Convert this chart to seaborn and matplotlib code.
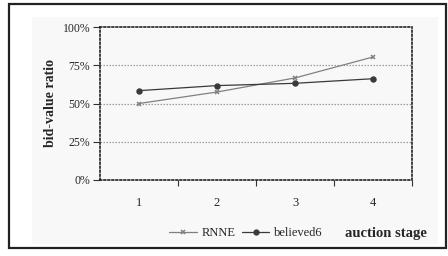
import pandas as pd
import matplotlib.pyplot as plt
import seaborn as sns
from matplotlib.patches import Rectangle
from matplotlib.ticker import FixedLocator, PercentFormatter

# Data
stages = [1, 2, 3, 4]
rnne = [50.0, 57.5, 66.7, 80.4]
believed6 = [58.4, 61.7, 63.2, 66.2]
y_ticks = [0, 25, 50, 75, 100]

df = pd.DataFrame({
    "stage": stages * 2,
    "ratio": rnne + believed6,
    "series": ["RNNE"] * len(stages) + ["believed6"] * len(stages),
})

sns.set_style("white")
plt.rcParams["font.family"] = ["Liberation Serif", "DejaVu Serif"]

fig = plt.figure(figsize=(4.48, 2.56), dpi=100)
fig.patch.set_facecolor("white")

# outer frame and light panel (behind the axes)
fig.patches.append(Rectangle((9 / 448, 1 - 248 / 256), 437 / 448, 244 / 256,
                             transform=fig.transFigure, fill=False,
                             edgecolor="#222222", linewidth=1.6, zorder=-2))
fig.patches.append(Rectangle((32 / 448, 1 - 244 / 256), 406 / 448, 227 / 256,
                             transform=fig.transFigure, facecolor="#f8f8f8",
                             edgecolor="none", zorder=-3))

ax = fig.add_axes([100 / 448, 1 - 180 / 256, 312 / 448, 153 / 256])
ax.set_facecolor("none")

palette = {"RNNE": "#808080", "believed6": "#3a3a3a"}
markers = {"RNNE": "x", "believed6": "o"}
for name in ["RNNE", "believed6"]:
    sns.lineplot(data=df[df["series"] == name], x="stage", y="ratio",
                 color=palette[name], marker=markers[name], markersize=3.5,
                 markeredgewidth=1.1, markeredgecolor=palette[name],
                 linewidth=0.9, ax=ax, zorder=3)

ax.set_xlim(0.5, 4.5)
ax.set_ylim(0, 100)
ax.set_yticks(y_ticks)
ax.yaxis.set_major_formatter(PercentFormatter(decimals=0))
ax.set_xticks(stages)
ax.xaxis.set_minor_locator(FixedLocator([1.5, 2.5, 3.5, 4.5]))
ax.tick_params(axis="x", which="major", bottom=False, length=0, pad=12, labelsize=9)
ax.tick_params(axis="x", which="minor", bottom=True, length=4, width=0.8,
               direction="out", color="#333333")
ax.tick_params(axis="y", left=True, length=5, width=0.8, direction="out",
               color="#333333", labelsize=8.5, pad=2)
ax.set_xlabel("")
ax.set_ylabel("")

for y in [25, 50, 75]:
    ax.axhline(y, color="#9a9a9a", linestyle=(0, (1.2, 1.2)), linewidth=0.9, zorder=0)
for side in ["top", "right", "left", "bottom"]:
    ax.spines[side].set_visible(True)
    ax.spines[side].set_color("#222222")
    ax.spines[side].set_linewidth(1.2)
    ax.spines[side].set_linestyle((0, (1.0, 1.4)))

fig.text(50 / 448, 1 - 103 / 256, "bid-value ratio", rotation=90,
         ha="center", va="center", fontsize=10, fontweight="bold")

handles = [
    plt.Line2D([], [], color=palette["RNNE"], marker="x", markersize=3.5,
               markeredgewidth=1.1, linewidth=0.9),
    plt.Line2D([], [], color=palette["believed6"], marker="o", markersize=3.5,
               linewidth=0.9),
]
fig.legend(handles, ["RNNE", "believed6"], loc="center",
           bbox_to_anchor=(246 / 448, 1 - 233 / 256), ncol=2, frameon=False,
           fontsize=9, handlelength=2.2, handletextpad=0.4, columnspacing=0.5)
fig.text(386 / 448, 1 - 233 / 256, "auction stage", ha="center", va="center",
         fontsize=10.5, fontweight="bold")

fig.savefig("out.png", dpi=100)
